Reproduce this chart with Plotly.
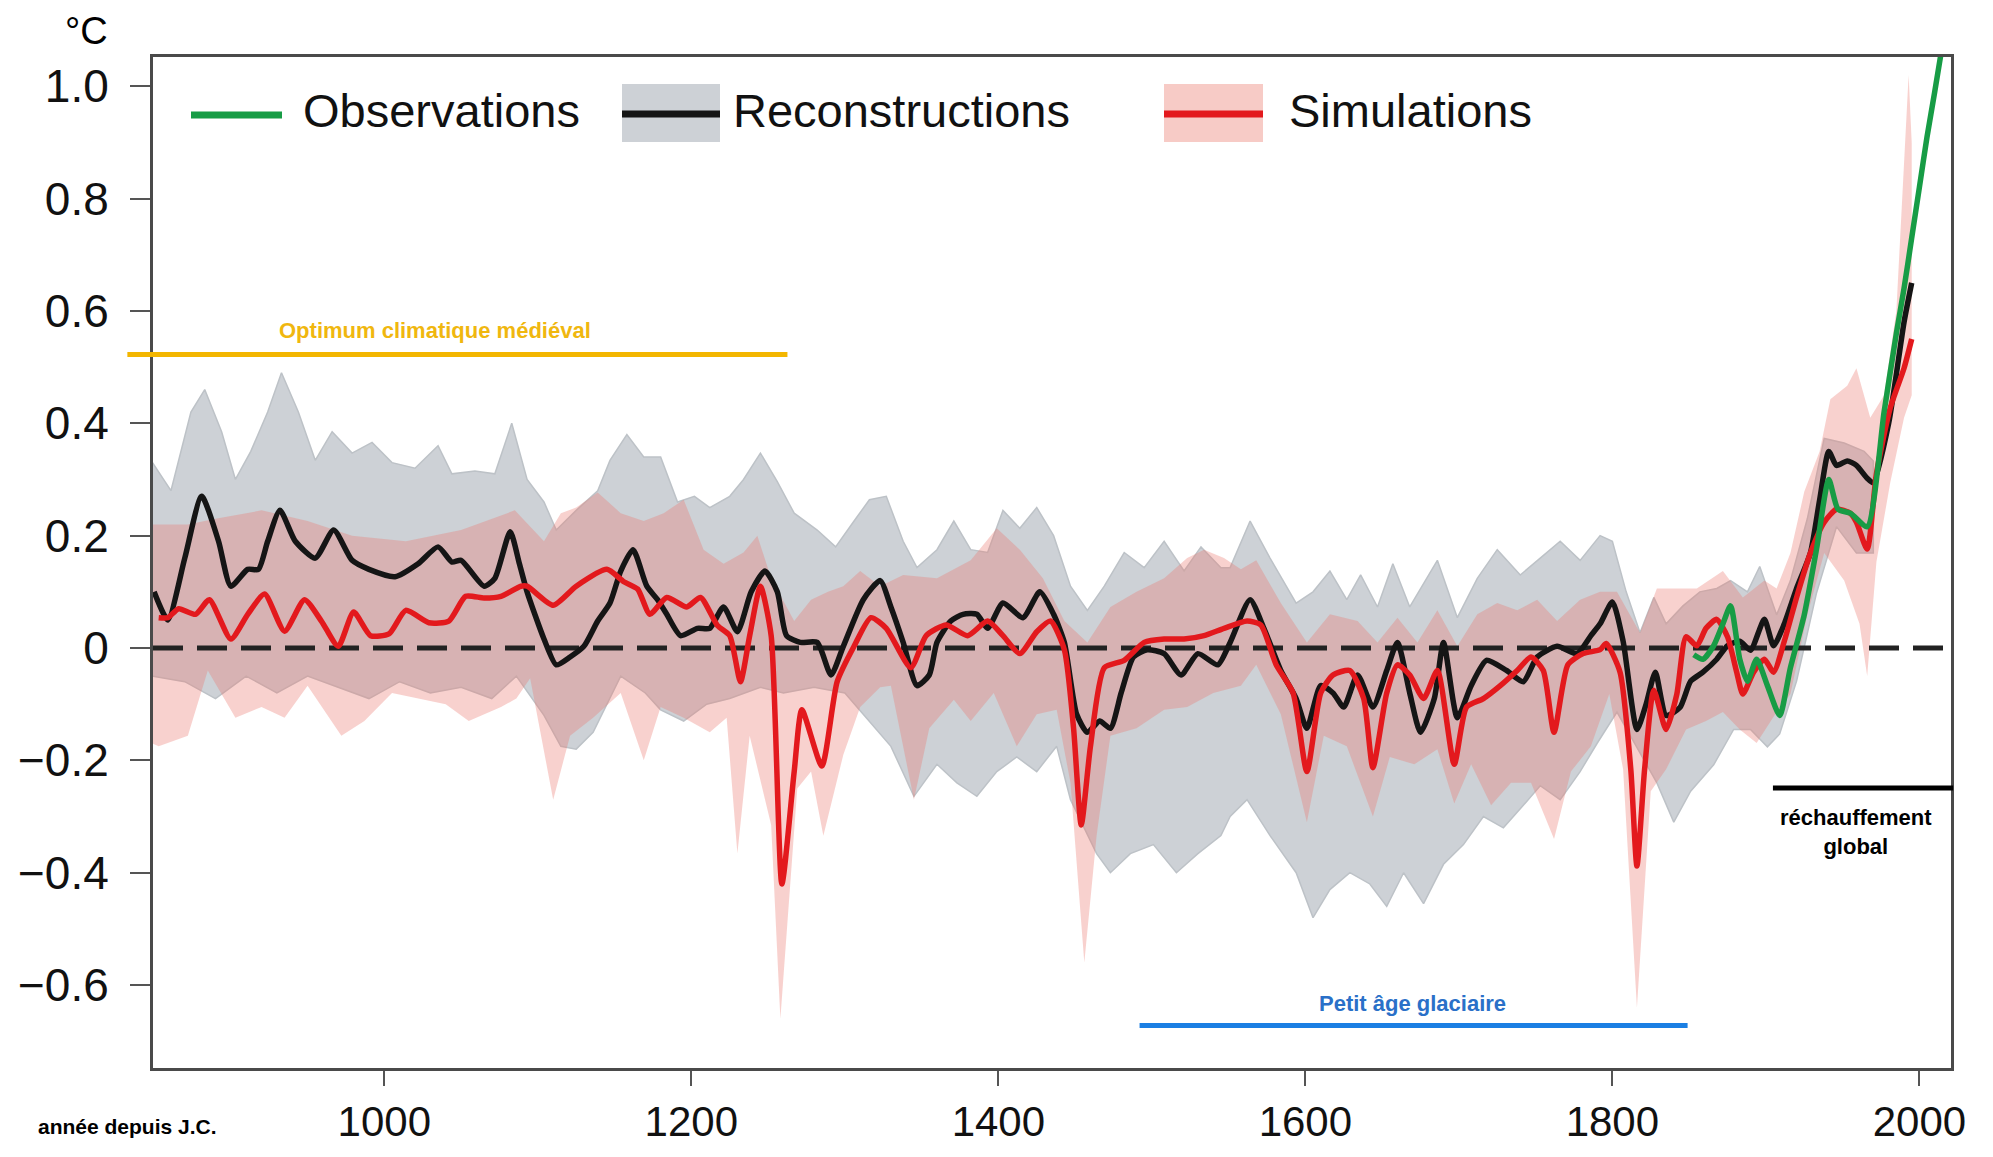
import plotly.graph_objects as go

# ---------------- data ----------------
recon_years = [850, 859, 870, 881, 892, 900, 911, 918, 924, 932, 942, 955, 967, 979, 990, 1007, 1022, 1035,
               1044, 1050, 1065, 1072, 1082, 1088, 1093, 1104, 1112, 1121, 1130, 1139, 1147, 1154, 1162, 1171,
               1178, 1184, 1193, 1204, 1212, 1221, 1230, 1239, 1248, 1256, 1262, 1271, 1282, 1291, 1299, 1312,
               1323, 1330, 1338, 1347, 1355, 1360, 1369, 1377, 1386, 1393, 1403, 1416, 1427, 1436, 1443, 1451,
               1458, 1466, 1473, 1480, 1488, 1497, 1508, 1519, 1530, 1543, 1551, 1564, 1573, 1584, 1594, 1601,
               1610, 1618, 1625, 1634, 1644, 1653, 1660, 1668, 1675, 1684, 1690, 1699, 1708, 1718, 1731, 1742,
               1751, 1764, 1777, 1786, 1792, 1800, 1807, 1816, 1822, 1828, 1835, 1844, 1851, 1859, 1868, 1875,
               1883, 1890, 1899, 1905, 1912, 1920, 1929, 1935, 1941, 1946, 1953, 1959, 1966, 1970, 1980, 1990,
               1995]
recon_vals = [0.10, 0.05, 0.16, 0.27, 0.19, 0.11, 0.14, 0.14, 0.19, 0.245, 0.19, 0.16, 0.21, 0.156, 0.14, 0.127,
              0.15, 0.18, 0.153, 0.156, 0.11, 0.124, 0.207, 0.15, 0.10, 0.016, -0.03, -0.016, 0.003, 0.048, 0.08,
              0.137, 0.175, 0.11, 0.086, 0.06, 0.022, 0.035, 0.035, 0.073, 0.029, 0.10, 0.137, 0.10, 0.022, 0.01,
              0.01, -0.048, 0.003, 0.086, 0.12, 0.073, 0.01, -0.067, -0.048, 0.01, 0.048, 0.06, 0.06, 0.035, 0.08,
              0.054, 0.10, 0.06, 0.01, -0.118, -0.15, -0.13, -0.143, -0.08, -0.016, -0.003, -0.01, -0.048, -0.01,
              -0.03, 0.01, 0.086, 0.035, -0.04, -0.09, -0.143, -0.067, -0.08, -0.105, -0.048, -0.105, -0.04, 0.01,
              -0.08, -0.15, -0.09, 0.01, -0.124, -0.067, -0.022, -0.04, -0.06, -0.016, 0.003, -0.01, 0.022, 0.043,
              0.082, 0.012, -0.145, -0.10, -0.043, -0.12, -0.106, -0.059, -0.043, -0.02, 0.004, 0.012, -0.004,
              0.051, 0.004, 0.043, 0.106, 0.169, 0.263, 0.35, 0.325, 0.333, 0.325, 0.302, 0.294, 0.40, 0.58, 0.65]

sim_years = [853, 859, 866, 877, 886, 900, 911, 922, 935, 948, 959, 970, 980, 991, 1003, 1014, 1029, 1042, 1053,
             1065, 1076, 1089, 1093, 1110, 1125, 1145, 1156, 1165, 1173, 1184, 1197, 1206, 1217, 1225, 1232, 1238,
             1245, 1252, 1259, 1267, 1272, 1285, 1295, 1306, 1317, 1327, 1343, 1353, 1366, 1380, 1393, 1403, 1414,
             1425, 1434, 1443, 1449, 1454, 1460, 1469, 1482, 1495, 1508, 1521, 1534, 1547, 1562, 1571, 1581, 1592,
             1601, 1610, 1618, 1629, 1638, 1644, 1653, 1660, 1668, 1677, 1686, 1697, 1705, 1716, 1727, 1738, 1747,
             1755, 1762, 1771, 1781, 1792, 1796, 1805, 1812, 1816, 1821, 1827, 1835, 1842, 1848, 1855, 1861, 1868,
             1875, 1881, 1885, 1892, 1899, 1905, 1912, 1920, 1929, 1938, 1946, 1955, 1959, 1966, 1972, 1981, 1990,
             1995]
sim_vals = [0.054, 0.054, 0.07, 0.06, 0.086, 0.016, 0.06, 0.096, 0.03, 0.086, 0.048, 0.003, 0.064, 0.022, 0.025,
            0.067, 0.045, 0.048, 0.092, 0.089, 0.092, 0.11, 0.11, 0.076, 0.11, 0.14, 0.118, 0.105, 0.06, 0.09, 0.073,
            0.09, 0.04, 0.022, -0.06, 0.022, 0.11, 0.022, -0.42, -0.22, -0.11, -0.21, -0.06, 0.003, 0.054, 0.035,
            -0.035, 0.022, 0.041, 0.022, 0.048, 0.022, -0.01, 0.029, 0.048, -0.003, -0.143, -0.315, -0.175, -0.035,
            -0.022, 0.01, 0.016, 0.016, 0.022, 0.035, 0.048, 0.041, -0.03, -0.08, -0.22, -0.08, -0.048, -0.04, -0.09,
            -0.213, -0.08, -0.03, -0.048, -0.09, -0.04, -0.207, -0.105, -0.09, -0.067, -0.04, -0.016, -0.04, -0.15,
            -0.03, -0.01, -0.003, 0.008, -0.043, -0.216, -0.388, -0.216, -0.075, -0.145, -0.082, 0.02, 0.004, 0.035,
            0.051, 0.02, -0.043, -0.082, -0.043, -0.02, -0.043, 0.012, 0.09, 0.169, 0.224, 0.247, 0.24, 0.224,
            0.176, 0.31, 0.427, 0.498, 0.55]

obs_years = [1853, 1859, 1866, 1872, 1877, 1883, 1888, 1894, 1901, 1909, 1916, 1925, 1933, 1941, 1947, 1955, 1966,
             1977, 1985, 1990, 1995, 2000, 2005, 2010, 2016]
obs_vals = [-0.012, -0.02, 0.004, 0.043, 0.075, -0.02, -0.059, -0.02, -0.067, -0.12, -0.035, 0.059, 0.176, 0.30,
            0.247, 0.24, 0.216, 0.42, 0.56, 0.64, 0.73, 0.82, 0.91, 0.99, 1.09]

recon_hi_years = [849, 861, 874, 883, 894, 903, 913, 924, 933, 944, 955, 966, 979, 992, 1005, 1020, 1035, 1044,
                  1059, 1072, 1083, 1093, 1104, 1112, 1125, 1139, 1147, 1158, 1169, 1180, 1191, 1202, 1212, 1225,
                  1234, 1245, 1256, 1267, 1282, 1294, 1306, 1316, 1327, 1338, 1347, 1360, 1371, 1382, 1393, 1403,
                  1414, 1425, 1436, 1447, 1458, 1469, 1482, 1495, 1508, 1521, 1532, 1545, 1551, 1564, 1577, 1594,
                  1605, 1616, 1627, 1636, 1647, 1657, 1668, 1686, 1699, 1712, 1725, 1740, 1753, 1766, 1779, 1792,
                  1800, 1809, 1818, 1827, 1835, 1846, 1857, 1868, 1877, 1888, 1896, 1907, 1916, 1927, 1938, 1951,
                  1964, 1970]
recon_hi = [0.33, 0.28, 0.42, 0.46, 0.385, 0.30, 0.35, 0.42, 0.49, 0.42, 0.334, 0.385, 0.347, 0.366, 0.33, 0.32,
            0.36, 0.31, 0.315, 0.31, 0.40, 0.30, 0.26, 0.21, 0.245, 0.28, 0.334, 0.38, 0.34, 0.34, 0.26, 0.27, 0.25,
            0.27, 0.30, 0.347, 0.296, 0.24, 0.21, 0.18, 0.226, 0.264, 0.27, 0.19, 0.143, 0.175, 0.226, 0.175, 0.17,
            0.245, 0.213, 0.25, 0.20, 0.11, 0.067, 0.11, 0.17, 0.143, 0.19, 0.137, 0.18, 0.143, 0.143, 0.226, 0.16,
            0.08, 0.10, 0.137, 0.086, 0.13, 0.073, 0.15, 0.073, 0.156, 0.054, 0.124, 0.175, 0.13, 0.16, 0.19, 0.156,
            0.2, 0.19, 0.10, 0.027, 0.09, 0.043, 0.075, 0.10, 0.106, 0.12, 0.10, 0.145, 0.059, 0.12, 0.23, 0.373,
            0.365, 0.35, 0.333]

recon_lo_years = [849, 870, 890, 910, 930, 950, 970, 990, 1010, 1030, 1050, 1070, 1086, 1104, 1115, 1125, 1136,
                  1147, 1154, 1170, 1180, 1195, 1210, 1225, 1245, 1260, 1280, 1300, 1316, 1330, 1345, 1360, 1373,
                  1386, 1399, 1412, 1425, 1438, 1447, 1464, 1473, 1486, 1501, 1516, 1530, 1545, 1551, 1562, 1577,
                  1594, 1605, 1616, 1629, 1642, 1653, 1664, 1677, 1690, 1703, 1716, 1729, 1742, 1753, 1766, 1779,
                  1790, 1803, 1816, 1829, 1840, 1851, 1866, 1879, 1890, 1901, 1909, 1920, 1933, 1946, 1959, 1970]
recon_lo = [-0.05, -0.06, -0.09, -0.05, -0.08, -0.05, -0.07, -0.09, -0.06, -0.08, -0.07, -0.09, -0.05, -0.12,
            -0.175, -0.18, -0.15, -0.09, -0.05, -0.08, -0.11, -0.13, -0.10, -0.09, -0.07, -0.08, -0.07, -0.08,
            -0.13, -0.175, -0.264, -0.207, -0.24, -0.264, -0.22, -0.194, -0.22, -0.175, -0.27, -0.366, -0.40,
            -0.366, -0.35, -0.40, -0.366, -0.334, -0.30, -0.27, -0.334, -0.40, -0.48, -0.43, -0.40, -0.42, -0.46,
            -0.40, -0.455, -0.385, -0.35, -0.30, -0.32, -0.28, -0.245, -0.27, -0.22, -0.17, -0.114, -0.176, -0.24,
            -0.31, -0.255, -0.208, -0.145, -0.145, -0.176, -0.153, -0.059, 0.098, 0.216, 0.169, 0.169]

sim_hi_years = [849, 872, 890, 920, 950, 979, 1014, 1050, 1085, 1104, 1115, 1125, 1139, 1154, 1169, 1182, 1195,
                1208, 1221, 1234, 1243, 1252, 1267, 1278, 1289, 1299, 1310, 1323, 1338, 1360, 1382, 1399, 1414,
                1429, 1443, 1458, 1473, 1490, 1508, 1523, 1534, 1547, 1558, 1568, 1584, 1601, 1616, 1634, 1647,
                1660, 1673, 1686, 1699, 1712, 1725, 1738, 1751, 1764, 1779, 1792, 1803, 1818, 1829, 1842, 1855,
                1872, 1885, 1899, 1907, 1916, 1925, 1935, 1942, 1953, 1959, 1968, 1977, 1985, 1990, 1993, 1995]
sim_hi = [0.22, 0.22, 0.23, 0.245, 0.226, 0.20, 0.19, 0.21, 0.245, 0.19, 0.24, 0.25, 0.277, 0.24, 0.226, 0.24,
          0.264, 0.175, 0.15, 0.17, 0.20, 0.124, 0.048, 0.086, 0.10, 0.11, 0.137, 0.11, 0.13, 0.124, 0.156, 0.213,
          0.175, 0.124, 0.048, 0.01, 0.073, 0.10, 0.124, 0.16, 0.175, 0.16, 0.14, 0.156, 0.08, 0.01, 0.06, 0.048,
          0.01, 0.054, 0.01, 0.067, 0.003, 0.06, 0.08, 0.067, 0.086, 0.048, 0.086, 0.10, 0.10, 0.027, 0.106, 0.106,
          0.106, 0.137, 0.09, 0.12, 0.106, 0.169, 0.278, 0.35, 0.443, 0.467, 0.498, 0.41, 0.45, 0.60, 0.85, 1.02,
          0.90]

sim_lo_years = [849, 853, 872, 885, 903, 920, 935, 950, 972, 987, 1005, 1022, 1040, 1055, 1076, 1086, 1095, 1110,
                1121, 1136, 1154, 1169, 1180, 1195, 1212, 1223, 1230, 1238, 1252, 1258, 1269, 1278, 1286, 1299,
                1310, 1323, 1330, 1345, 1355, 1371, 1382, 1397, 1412, 1425, 1438, 1447, 1456, 1464, 1473, 1490,
                1508, 1523, 1540, 1558, 1568, 1584, 1601, 1612, 1627, 1644, 1655, 1671, 1686, 1697, 1708, 1721,
                1734, 1747, 1762, 1773, 1786, 1798, 1807, 1816, 1825, 1835, 1848, 1861, 1872, 1883, 1894, 1907,
                1916, 1927, 1938, 1951, 1961, 1966, 1972, 1981, 1990, 1995]
sim_lo = [-0.17, -0.175, -0.156, -0.04, -0.124, -0.105, -0.124, -0.067, -0.156, -0.13, -0.08, -0.09, -0.10, -0.13,
          -0.105, -0.09, -0.054, -0.27, -0.156, -0.124, -0.08, -0.20, -0.105, -0.124, -0.15, -0.124, -0.366, -0.156,
          -0.315, -0.66, -0.25, -0.22, -0.334, -0.19, -0.105, -0.07, -0.067, -0.27, -0.143, -0.092, -0.13, -0.08,
          -0.175, -0.118, -0.11, -0.24, -0.56, -0.334, -0.156, -0.143, -0.11, -0.105, -0.08, -0.067, -0.03, -0.118,
          -0.31, -0.156, -0.175, -0.30, -0.194, -0.207, -0.18, -0.277, -0.207, -0.28, -0.24, -0.24, -0.34, -0.22,
          -0.175, -0.082, -0.216, -0.64, -0.255, -0.216, -0.145, -0.13, -0.114, -0.145, -0.169, -0.114, -0.082,
          0.059, 0.169, 0.12, 0.043, -0.05, 0.153, 0.294, 0.41, 0.45]

x_tick_vals = [1000, 1200, 1400, 1600, 1800, 2000]
x_tick_text = ["1000", "1200", "1400", "1600", "1800", "2000"]
y_tick_vals = [-0.6, -0.4, -0.2, 0, 0.2, 0.4, 0.6, 0.8, 1.0]
y_tick_text = ["\u22120.6", "\u22120.4", "\u22120.2", "0", "0.2", "0.4", "0.6", "0.8", "1.0"]

legend_labels = ["Observations", "Reconstructions", "Simulations"]

# ---------------- layout geometry ----------------
X_RANGE = [849.3, 2020.6]
Y_RANGE = [-0.7476, 1.052]
W, H = 1977, 1141
PAGE = 8  # default body margin of the page
ML, MT = 153 - PAGE, 57 - PAGE
MR = W - (1951 - PAGE)
MB = H - (1068 - PAGE)
PW = W - ML - MR
PH = H - MT - MB


def px(X):  # page pixel x -> paper
    return (X - PAGE - ML) / PW


def py(Y):  # page pixel y -> paper
    return 1 - (Y - PAGE - MT) / PH


def xp(year):  # data x -> paper
    return (year - X_RANGE[0]) / (X_RANGE[1] - X_RANGE[0])


SANS = "Liberation Sans, Arial, Helvetica, sans-serif"

GREEN = "#179c45"
RED = "#e3191d"
BLACK = "#151515"
GREY_FILL = "#cdd1d6"
PINK_FILL = "rgba(235,120,110,0.34)"
YELLOW = "#f3b600"
BLUE = "#1b7fe3"

fig = go.Figure()

# reconstruction envelope
fig.add_trace(go.Scatter(
    x=recon_hi_years + recon_lo_years[::-1], y=recon_hi + recon_lo[::-1],
    fill="toself", fillcolor=GREY_FILL, mode="lines",
    line=dict(color="#bdc2c7", width=1.5), hoverinfo="skip"))
# simulation envelope
fig.add_trace(go.Scatter(
    x=sim_hi_years + sim_lo_years[::-1], y=sim_hi + sim_lo[::-1],
    fill="toself", fillcolor=PINK_FILL, mode="lines",
    line=dict(color="rgba(0,0,0,0)", width=0), hoverinfo="skip"))
# zero reference
fig.add_trace(go.Scatter(
    x=X_RANGE, y=[0, 0], mode="lines",
    line=dict(color="#222222", width=5, dash="30px,14px"), hoverinfo="skip"))
# series
fig.add_trace(go.Scatter(x=recon_years, y=recon_vals, mode="lines",
                         line=dict(color=BLACK, width=5.5, shape="spline", smoothing=0.6)))
fig.add_trace(go.Scatter(x=sim_years, y=sim_vals, mode="lines",
                         line=dict(color=RED, width=5.5, shape="spline", smoothing=0.6)))
fig.add_trace(go.Scatter(x=obs_years, y=obs_vals, mode="lines",
                         line=dict(color=GREEN, width=5.5, shape="spline", smoothing=0.6)))

shapes = []
annotations = []

# --- legend drawn by hand ---
shapes.append(dict(type="line", xref="paper", yref="paper", x0=px(191), x1=px(282), y0=py(115), y1=py(115),
                   line=dict(color=GREEN, width=7)))
shapes.append(dict(type="rect", xref="paper", yref="paper", x0=px(622), x1=px(720), y0=py(142), y1=py(84),
                   fillcolor=GREY_FILL, line=dict(width=0)))
shapes.append(dict(type="line", xref="paper", yref="paper", x0=px(622), x1=px(720), y0=py(114), y1=py(114),
                   line=dict(color=BLACK, width=7)))
shapes.append(dict(type="rect", xref="paper", yref="paper", x0=px(1164), x1=px(1263), y0=py(142), y1=py(84),
                   fillcolor="#f7cbc6", line=dict(width=0)))
shapes.append(dict(type="line", xref="paper", yref="paper", x0=px(1164), x1=px(1263), y0=py(114), y1=py(114),
                   line=dict(color=RED, width=7)))
for lab, xx in zip(legend_labels, [301, 731, 1287]):
    annotations.append(dict(text=lab, xref="paper", yref="paper", x=px(xx), y=py(111),
                            xanchor="left", yanchor="middle", showarrow=False,
                            font=dict(family=SANS, size=47, color="#111111")))

# --- period markers ---
shapes.append(dict(type="line", xref="paper", yref="y", x0=xp(832.6), x1=xp(1262.6), y0=0.5225, y1=0.5225,
                   line=dict(color=YELLOW, width=5)))
annotations.append(dict(text="<b>Optimum climatique médiéval</b>", xref="x", yref="y", x=1033, y=0.565,
                        showarrow=False, font=dict(family=SANS, size=22, color="#f0b70f")))
shapes.append(dict(type="line", xref="x", yref="y", x0=1492, x1=1849, y0=-0.672, y1=-0.672,
                   line=dict(color=BLUE, width=5)))
annotations.append(dict(text="<b>Petit âge glaciaire</b>", xref="x", yref="y", x=1669.5, y=-0.632,
                        showarrow=False, font=dict(family=SANS, size=22, color="#2a70c8")))
shapes.append(dict(type="line", xref="paper", yref="y", x0=xp(1904.6), x1=xp(2022), y0=-0.249, y1=-0.249,
                   line=dict(color="#000000", width=5)))
annotations.append(dict(text="<b>réchauffement<br>global</b>", xref="x", yref="y", x=1958.6, y=-0.327,
                        showarrow=False, align="center",
                        font=dict(family=SANS, size=22, color="#000000")))

# --- axis captions ---
annotations.append(dict(text="°C", xref="paper", yref="paper", x=px(86), y=py(31), showarrow=False,
                        xanchor="center", yanchor="middle",
                        font=dict(family=SANS, size=38, color="#000000")))
annotations.append(dict(text="<b>année depuis J.C.</b>", xref="paper", yref="paper", x=px(127), y=py(1126),
                        showarrow=False, xanchor="center", yanchor="middle",
                        font=dict(family=SANS, size=21, color="#000000")))

fig.update_layout(
    width=W, height=H, autosize=False,
    margin=dict(l=ML, r=MR, t=MT, b=MB, pad=0),
    paper_bgcolor="white", plot_bgcolor="white",
    showlegend=False,
    shapes=shapes, annotations=annotations,
    xaxis=dict(range=X_RANGE, tickvals=x_tick_vals, ticktext=x_tick_text, automargin=False,
               ticks="outside", ticklen=15, tickwidth=2, tickcolor="#555555",
               showline=True, linecolor="#4a4a4a", linewidth=3, mirror=True,
               showgrid=False, zeroline=False, ticklabelstandoff=0,
               tickfont=dict(family=SANS, size=42, color="#111111")),
    yaxis=dict(range=Y_RANGE, tickvals=y_tick_vals, ticktext=y_tick_text, automargin=False,
               ticks="outside", ticklen=20, tickwidth=2, tickcolor="#555555",
               showline=True, linecolor="#4a4a4a", linewidth=3, mirror=True,
               showgrid=False, zeroline=False, ticklabelstandoff=12,
               tickfont=dict(family=SANS, size=46, color="#111111")),
)

fig.write_html("out.html")
